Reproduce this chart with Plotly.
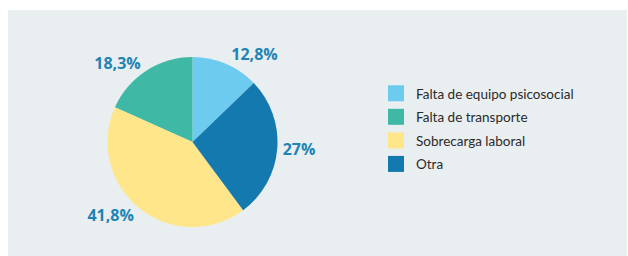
import plotly.graph_objects as go

categories = ["Falta de equipo psicosocial", "Falta de transporte", "Sobrecarga laboral", "Otra"]
values = [12.8, 18.3, 41.8, 27.0]
value_labels = ["12,8%", "18,3%", "41,8%", "27%"]
colors = ["#6DCBF0", "#3FB9A6", "#FFE68A", "#1479AE"]

W, H = 628, 256

fig = go.Figure()
fig.add_trace(go.Pie(
    labels=categories,
    values=values,
    text=value_labels,
    texttemplate="%{text}",
    textposition="outside",
    sort=False,
    direction="counterclockwise",
    rotation=0,
    marker=dict(colors=colors, line=dict(width=0)),
    outsidetextfont=dict(family="Open Sans", size=16, color="#1E84B5", weight="bold"),
    domain=dict(x=[(192.5 - 85) / W, (192.5 + 85) / W], y=[(114 - 85) / H, (114 + 85) / H]),
    hoverinfo="label+text",
    showlegend=False,
))

# legend entries (larger square swatches, like the reference)
for i, (cat, col) in enumerate(zip(categories, colors)):
    fig.add_trace(go.Scatter(
        x=[None], y=[None], mode="markers", name=cat,
        marker=dict(symbol="square", size=16, color=col),
        legendgroup=f"g{i}", showlegend=True, hoverinfo="skip",
    ))

fig.update_layout(
    width=W, height=H,
    margin=dict(l=0, r=0, t=0, b=0),
    paper_bgcolor="white",
    plot_bgcolor="rgba(0,0,0,0)",
    xaxis=dict(visible=False),
    yaxis=dict(visible=False),
    shapes=[dict(type="rect", xref="paper", yref="paper", x0=8 / W, x1=627 / W, y0=0, y1=1 - 10 / H,
                 fillcolor="#E9EEF1", line=dict(width=0), layer="below")],
    legend=dict(x=376 / W, y=1 - 78 / H, xanchor="left", yanchor="top",
                font=dict(family="Lato", size=13.5, color="#2A2A2A"),
                bgcolor="rgba(0,0,0,0)", traceorder="grouped", tracegroupgap=3),
)

fig.write_html("out.html",
               config={"displayModeBar": False},
               post_script="document.body.style.margin='0';document.body.style.overflow='hidden';")
